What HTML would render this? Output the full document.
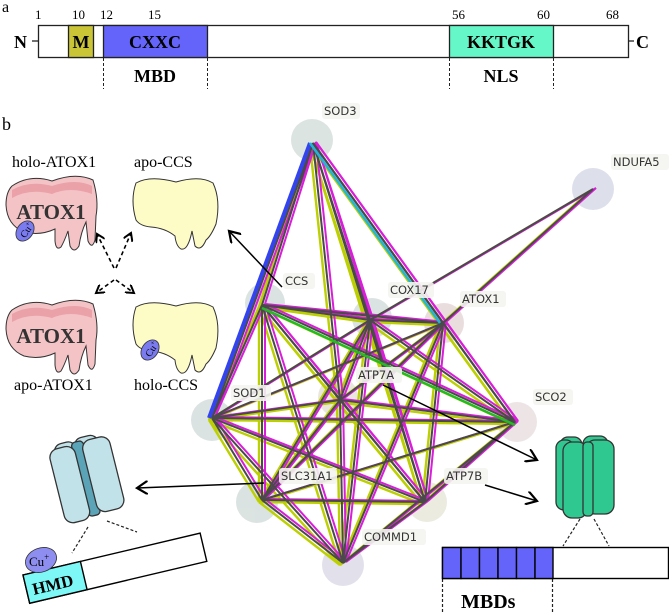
<!DOCTYPE html>
<html><head><meta charset="utf-8"><style>
html,body{margin:0;padding:0;background:#fff;}
svg{display:block;}
.lb{font-family:"DejaVu Sans",sans-serif;font-size:11.5px;fill:#333;}
.sf{font-family:"Liberation Serif",serif;}
</style></head><body>
<svg width="669" height="612" viewBox="0 0 669 612" xmlns="http://www.w3.org/2000/svg">
<defs>
<marker id="ah" markerWidth="10" markerHeight="10" refX="8" refY="5" orient="auto" markerUnits="userSpaceOnUse"><path d="M0,0 L8,5 L0,10" fill="none" stroke="#000" stroke-width="2"/></marker>
<marker id="ah2" markerWidth="14" markerHeight="14" refX="11" refY="7" orient="auto" markerUnits="userSpaceOnUse"><path d="M0,0 L11,7 L0,14" fill="none" stroke="#000" stroke-width="2.2"/></marker>
<g id="E">
<line x1="313" y1="143" x2="262" y2="305"/><line x1="313" y1="143" x2="212" y2="418"/><line x1="313" y1="143" x2="370" y2="320"/><line x1="313" y1="143" x2="443" y2="323"/><line x1="313" y1="143" x2="515" y2="422"/><line x1="313" y1="143" x2="340" y2="400"/><line x1="313" y1="143" x2="425" y2="502"/>
<line x1="593" y1="189" x2="370" y2="320"/><line x1="593" y1="189" x2="443" y2="323"/>
<line x1="262" y1="305" x2="370" y2="320"/><line x1="262" y1="305" x2="443" y2="323"/><line x1="262" y1="305" x2="340" y2="400"/><line x1="262" y1="305" x2="212" y2="418"/><line x1="262" y1="305" x2="515" y2="422"/><line x1="262" y1="305" x2="262" y2="500"/><line x1="262" y1="305" x2="425" y2="502"/><line x1="262" y1="305" x2="343" y2="563"/>
<line x1="370" y1="320" x2="443" y2="323"/><line x1="370" y1="320" x2="340" y2="400"/><line x1="370" y1="320" x2="212" y2="418"/><line x1="370" y1="320" x2="515" y2="422"/><line x1="370" y1="320" x2="262" y2="500"/><line x1="370" y1="320" x2="425" y2="502"/><line x1="370" y1="320" x2="343" y2="563"/>
<line x1="443" y1="323" x2="340" y2="400"/><line x1="443" y1="323" x2="212" y2="418"/><line x1="443" y1="323" x2="515" y2="422"/><line x1="443" y1="323" x2="262" y2="500"/><line x1="443" y1="323" x2="425" y2="502"/><line x1="443" y1="323" x2="343" y2="563"/>
<line x1="340" y1="400" x2="212" y2="418"/><line x1="340" y1="400" x2="515" y2="422"/><line x1="340" y1="400" x2="262" y2="500"/><line x1="340" y1="400" x2="425" y2="502"/><line x1="340" y1="400" x2="343" y2="563"/>
<line x1="212" y1="418" x2="515" y2="422"/><line x1="212" y1="418" x2="262" y2="500"/><line x1="212" y1="418" x2="425" y2="502"/><line x1="212" y1="418" x2="343" y2="563"/>
<line x1="515" y1="422" x2="262" y2="500"/><line x1="515" y1="422" x2="425" y2="502"/><line x1="515" y1="422" x2="343" y2="563"/>
<line x1="262" y1="500" x2="425" y2="502"/><line x1="262" y1="500" x2="343" y2="563"/><line x1="425" y1="502" x2="343" y2="563"/>
</g>
</defs>

<!-- part a -->
<text x="2" y="12" class="sf" font-size="16">a</text>
<g class="sf" font-size="13">
<text x="35" y="19">1</text><text x="72" y="19">10</text><text x="100" y="19">12</text><text x="148" y="19">15</text>
<text x="452" y="19">56</text><text x="537" y="19">60</text><text x="606" y="19">68</text>
</g>
<rect x="38.5" y="25.5" width="590" height="32" fill="#fff" stroke="#222" stroke-width="1.3"/>
<rect x="68.5" y="25.5" width="25" height="32" fill="#c9c536" stroke="#222" stroke-width="1.3"/>
<rect x="103.5" y="25.5" width="104" height="32" fill="#6464fa" stroke="#222" stroke-width="1.3"/>
<rect x="449.5" y="25.5" width="104" height="32" fill="#66f7c8" stroke="#222" stroke-width="1.3"/>
<line x1="32" y1="41" x2="38" y2="41" stroke="#222" stroke-width="1.3"/><line x1="629" y1="41" x2="634" y2="41" stroke="#222" stroke-width="1.3"/>
<g class="sf" font-weight="bold" font-size="18">
<text x="14" y="48">N</text><text x="636" y="48">C</text>
<text x="81" y="48" text-anchor="middle">M</text>
<text x="155" y="48" text-anchor="middle">CXXC</text>
<text x="501" y="48" text-anchor="middle">KKTGK</text>
<text x="155" y="82" text-anchor="middle">MBD</text>
<text x="501" y="82" text-anchor="middle">NLS</text>
</g>
<g stroke="#222" stroke-dasharray="3,2" stroke-width="1">
<line x1="103.5" y1="58" x2="103.5" y2="89"/><line x1="207.5" y1="58" x2="207.5" y2="89"/>
<line x1="449.5" y1="58" x2="449.5" y2="89"/><line x1="553.5" y1="58" x2="553.5" y2="89"/>
</g>

<text x="2" y="130" class="sf" font-size="18">b</text>

<!-- network nodes -->
<g fill="#cdd8d6" opacity="0.7">
<circle cx="312" cy="140" r="21"/><circle cx="593" cy="189" r="21" fill="#cfd2e2"/><circle cx="265" cy="303" r="20"/>
<circle cx="372" cy="318" r="20"/><circle cx="444" cy="323" r="20" fill="#e2cfd0"/><circle cx="338" cy="397" r="20" fill="#e0ddd0"/>
<circle cx="212" cy="420" r="21"/><circle cx="517" cy="422" r="20" fill="#e5d8da"/><circle cx="257" cy="502" r="21"/>
<circle cx="427" cy="502" r="20" fill="#e3e3d3"/><circle cx="343" cy="565" r="21" fill="#d7d4e2"/>
</g>
<!-- edges -->
<use href="#E" stroke="#bccf00" stroke-width="2.4" transform="translate(-3,2)" fill="none"/>
<use href="#E" stroke="#d81ed8" stroke-width="2" transform="translate(3,-1)" fill="none"/>
<use href="#E" stroke="#4a4a4a" stroke-width="2" fill="none"/>
<line x1="313" y1="143" x2="212" y2="418" stroke="#3344ee" stroke-width="4" transform="translate(-3,0)"/>
<line x1="262" y1="305" x2="515" y2="422" stroke="#22bb22" stroke-width="2.5" transform="translate(0,3)"/>
<line x1="313" y1="143" x2="443" y2="323" stroke="#22b6d6" stroke-width="2.5" transform="translate(-3,0)"/>

<!-- labels -->
<g>
<rect x="322" y="103" width="38" height="16" rx="3" fill="#f4f4f0" opacity=".9"/><text x="324" y="115" class="lb">SOD3</text>
<rect x="611" y="154" width="58" height="16" rx="3" fill="#f4f4f0" opacity=".9"/><text x="613" y="166" class="lb">NDUFA5</text>
<rect x="283" y="273" width="32" height="16" rx="3" fill="#f4f4f0" opacity=".9"/><text x="285" y="285" class="lb">CCS</text>
<rect x="388" y="282" width="46" height="16" rx="3" fill="#f4f4f0" opacity=".9"/><text x="390" y="294" class="lb">COX17</text>
<rect x="460" y="291" width="46" height="16" rx="3" fill="#f4f4f0" opacity=".9"/><text x="462" y="303" class="lb">ATOX1</text>
<rect x="356" y="367" width="46" height="16" rx="3" fill="#f4f4f0" opacity=".9"/><text x="358" y="379" class="lb">ATP7A</text>
<rect x="231" y="385" width="40" height="16" rx="3" fill="#f4f4f0" opacity=".9"/><text x="233" y="397" class="lb">SOD1</text>
<rect x="533" y="389" width="40" height="16" rx="3" fill="#f4f4f0" opacity=".9"/><text x="535" y="401" class="lb">SCO2</text>
<rect x="279" y="468" width="58" height="16" rx="3" fill="#f4f4f0" opacity=".9"/><text x="281" y="480" class="lb">SLC31A1</text>
<rect x="444" y="468" width="44" height="16" rx="3" fill="#f4f4f0" opacity=".9"/><text x="446" y="480" class="lb">ATP7B</text>
<rect x="362" y="529" width="64" height="16" rx="3" fill="#f4f4f0" opacity=".9"/><text x="364" y="541" class="lb">COMMD1</text>
</g>

<!-- left proteins -->
<g class="sf" font-size="16">
<text x="12" y="167">holo-ATOX1</text><text x="134" y="167">apo-CCS</text>
<text x="14" y="390">apo-ATOX1</text><text x="134" y="390">holo-CCS</text>
</g>
<g id="atox">
<path d="M12,186 Q30,174 52,181 Q76,172 93,180 Q99,200 96,216 L95,240 Q92,250 88,241 L86,222 Q81,232 79,246 Q74,254 70,246 L68,231 Q64,242 61,247 Q56,251 55,241 L55,229 Q40,236 24,232 Q7,225 6,205 Q6,192 12,186Z" fill="#f3c3c6" stroke="#333" stroke-width="1"/>
<path d="M12,190 Q30,180 52,186 Q76,178 92,186 L92,194 Q70,186 52,194 Q30,188 12,198Z" fill="#e48a95" opacity=".6"/>
<text x="51" y="219" class="sf" font-weight="bold" font-size="21" text-anchor="middle" fill="#333">ATOX1</text>
</g>
<ellipse cx="25" cy="231" rx="8" ry="11" transform="rotate(35 25 231)" fill="#7b7bf0" stroke="#333" stroke-width=".8"/>
<text x="20" y="237" class="sf" font-size="10" transform="rotate(-55 24 233)">Cu<tspan font-size="7" dy="-4">+</tspan></text>
<use href="#atox" transform="translate(0,124)"/>
<g id="ccs">
<path d="M136,183 Q150,175 176,182 Q200,175 213,183 Q221,200 216,224 Q211,236 206,240 Q201,252 195,246 L192,231 Q188,251 181,249 Q176,246 175,236 Q165,228 151,227 Q140,226 136,220 Q130,200 136,183Z" fill="#fefcc6" stroke="#333" stroke-width="1"/>
</g>
<use href="#ccs" transform="translate(0,124)"/>
<ellipse cx="150" cy="350" rx="8" ry="11" transform="rotate(35 150 350)" fill="#7b7bf0" stroke="#333" stroke-width=".8"/>
<text x="145" y="356" class="sf" font-size="10" transform="rotate(-55 149 352)">Cu<tspan font-size="7" dy="-4">+</tspan></text>
<g stroke="#000" stroke-width="1.6" stroke-dasharray="4,3" fill="none">
<line x1="114" y1="268" x2="97" y2="234" marker-end="url(#ah)"/>
<line x1="116" y1="268" x2="131" y2="233" marker-end="url(#ah)"/>
<line x1="114" y1="280" x2="96" y2="293" marker-end="url(#ah)"/>
<line x1="116" y1="280" x2="134" y2="293" marker-end="url(#ah)"/>
</g>
<line x1="282" y1="287" x2="229" y2="231" stroke="#000" stroke-width="1.5" marker-end="url(#ah2)"/>

<!-- SLC31A1 channel -->
<line x1="264" y1="483" x2="137" y2="488" stroke="#000" stroke-width="1.5" marker-end="url(#ah2)"/>
<g stroke="#333" stroke-width="1.3" fill="#c2e2ea" transform="rotate(-14 80 480)">
<rect x="62" y="440" width="22" height="62" rx="8"/><rect x="83" y="439" width="24" height="62" rx="8"/>
<rect x="80" y="442" width="12" height="76" rx="4" fill="#5ba4b8"/>
<rect x="56" y="444" width="26" height="76" rx="9"/>
<rect x="90" y="443" width="28" height="74" rx="9"/>
</g>
<g stroke="#222" stroke-dasharray="3,2" stroke-width="1.2">
<line x1="88" y1="527" x2="72" y2="553"/><line x1="107" y1="521" x2="137" y2="532"/>
</g>
<g transform="rotate(-13.3 23 575)">
<rect x="23" y="575" width="182" height="29" fill="#fff" stroke="#000" stroke-width="1.4"/>
<rect x="23" y="575" width="59" height="29" fill="#7ef7f7" stroke="#000" stroke-width="1.4"/>
<text x="29" y="597" class="sf" font-weight="bold" font-size="17">HMD</text>
</g>
<ellipse cx="41" cy="560" rx="16" ry="12" transform="rotate(-20 41 560)" fill="#8e8ef0" stroke="#333" stroke-width=".8"/>
<text x="29" y="566" class="sf" font-size="13">Cu<tspan font-size="9" dy="-6">+</tspan></text>

<!-- ATP7 channel -->
<line x1="383" y1="385" x2="537" y2="460" stroke="#000" stroke-width="1.5" marker-end="url(#ah2)"/>
<line x1="485" y1="485" x2="537" y2="501" stroke="#000" stroke-width="1.5" marker-end="url(#ah2)"/>
<g stroke="#333" stroke-width="1.3" fill="#2fc891">
<rect x="560" y="437" width="22" height="60" rx="8"/><rect x="583" y="436" width="25" height="60" rx="8"/>
<rect x="586" y="440" width="28" height="74" rx="9"/><rect x="556" y="440" width="18" height="70" rx="8"/>
<rect x="563" y="442" width="24" height="76" rx="9"/><rect x="583" y="442" width="10" height="74" rx="4"/>
</g>
<g stroke="#222" stroke-dasharray="3,2" stroke-width="1.2">
<line x1="580" y1="519" x2="563" y2="546"/><line x1="594" y1="519" x2="609" y2="546"/>
<line x1="442.5" y1="579" x2="442.5" y2="612"/><line x1="552.5" y1="579" x2="552.5" y2="612"/>
</g>
<rect x="442.5" y="547.5" width="226" height="31" fill="#fff" stroke="#000" stroke-width="1.4"/>
<g fill="#6464fa" stroke="#000" stroke-width="1.4">
<rect x="442.5" y="547.5" width="18.5" height="31"/><rect x="461" y="547.5" width="18.5" height="31"/><rect x="479.5" y="547.5" width="18.5" height="31"/>
<rect x="498" y="547.5" width="18.5" height="31"/><rect x="516.5" y="547.5" width="18.5" height="31"/><rect x="535" y="547.5" width="18" height="31"/>
</g>
<text x="461" y="608" class="sf" font-weight="bold" font-size="20">MBDs</text>
</svg>
</body></html>
